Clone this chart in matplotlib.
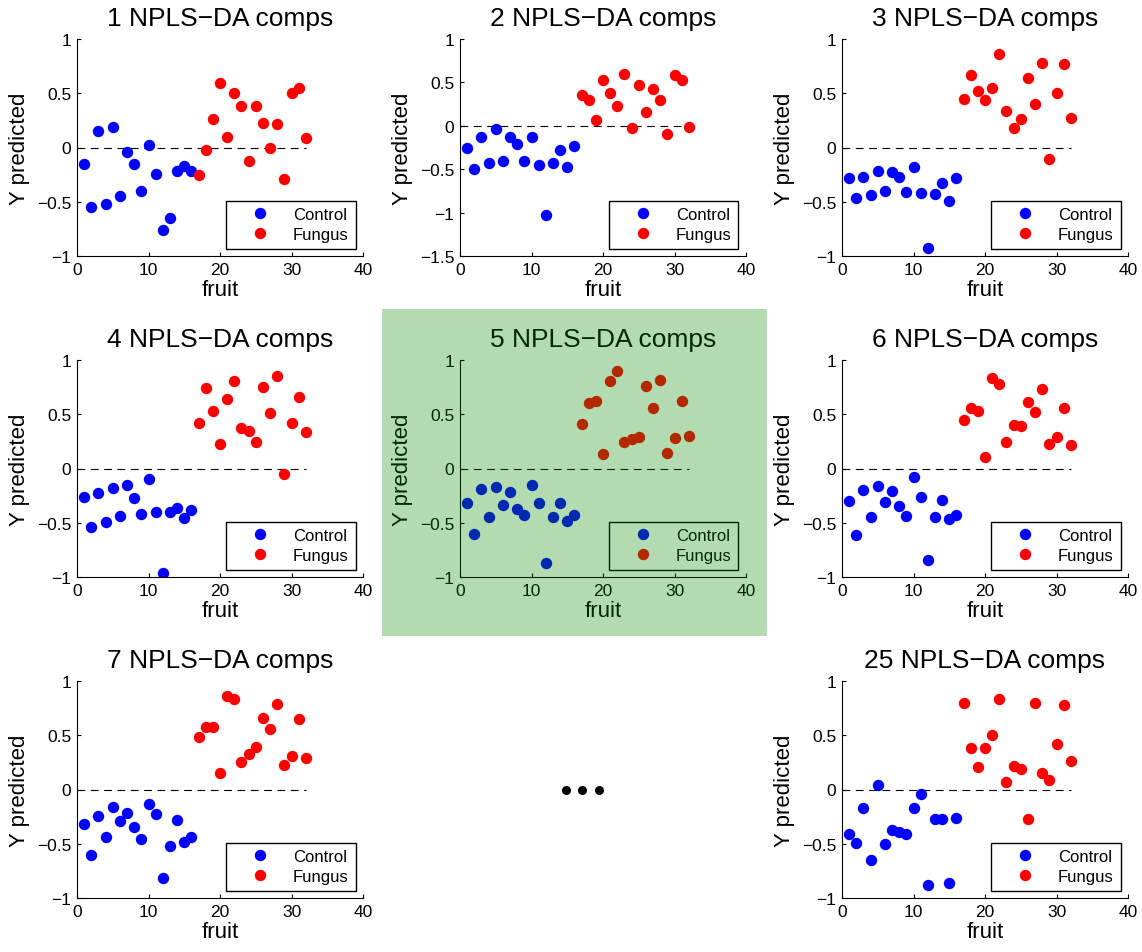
import matplotlib
matplotlib.use("Agg")
import matplotlib.pyplot as plt
from matplotlib.patches import Rectangle
from matplotlib.lines import Line2D
from matplotlib.ticker import FuncFormatter
import numpy as np

plt.rcParams['font.family'] = ['Liberation Sans', 'DejaVu Sans']

fruit_control = list(range(1, 17))
fruit_fungus = list(range(17, 33))

titles = ["1 NPLS\u2212DA comps", "2 NPLS\u2212DA comps", "3 NPLS\u2212DA comps",
          "4 NPLS\u2212DA comps", "5 NPLS\u2212DA comps", "6 NPLS\u2212DA comps",
          "7 NPLS\u2212DA comps", "25 NPLS\u2212DA comps"]

control_1 = [-0.15, -0.55, 0.15, -0.52, 0.19, -0.45, -0.04, -0.15, -0.40, 0.02, -0.24, -0.76, -0.65, -0.22, -0.17, -0.22]
fungus_1 = [-0.25, -0.02, 0.26, 0.59, 0.10, 0.50, 0.38, -0.12, 0.38, 0.23, 0.00, 0.22, -0.29, 0.50, 0.55, 0.09]

control_2 = [-0.26, -0.50, -0.13, -0.43, -0.04, -0.40, -0.13, -0.21, -0.41, -0.13, -0.45, -1.03, -0.43, -0.28, -0.47, -0.23]
fungus_2 = [0.35, 0.30, 0.07, 0.53, 0.38, 0.23, 0.60, -0.03, 0.47, 0.16, 0.42, 0.30, -0.09, 0.58, 0.53, -0.01]

control_3 = [-0.28, -0.47, -0.27, -0.44, -0.22, -0.40, -0.23, -0.27, -0.41, -0.18, -0.42, -0.93, -0.43, -0.33, -0.49, -0.28]
fungus_3 = [0.45, 0.67, 0.52, 0.44, 0.55, 0.86, 0.34, 0.18, 0.26, 0.64, 0.40, 0.78, -0.11, 0.50, 0.77, 0.27]

control_4 = [-0.26, -0.54, -0.23, -0.49, -0.18, -0.44, -0.15, -0.27, -0.42, -0.10, -0.40, -0.96, -0.40, -0.36, -0.46, -0.38]
fungus_4 = [0.42, 0.74, 0.53, 0.23, 0.64, 0.81, 0.37, 0.35, 0.24, 0.75, 0.51, 0.85, -0.05, 0.42, 0.66, 0.34]

control_5 = [-0.32, -0.60, -0.19, -0.45, -0.17, -0.34, -0.22, -0.37, -0.43, -0.15, -0.32, -0.87, -0.45, -0.32, -0.48, -0.43]
fungus_5 = [0.41, 0.60, 0.62, 0.13, 0.81, 0.90, 0.24, 0.27, 0.29, 0.76, 0.56, 0.82, 0.14, 0.28, 0.62, 0.30]

control_6 = [-0.30, -0.61, -0.20, -0.45, -0.16, -0.31, -0.21, -0.35, -0.44, -0.08, -0.26, -0.84, -0.45, -0.29, -0.47, -0.43]
fungus_6 = [0.45, 0.56, 0.53, 0.11, 0.83, 0.78, 0.24, 0.40, 0.39, 0.61, 0.52, 0.73, 0.23, 0.29, 0.56, 0.22]

control_7 = [-0.32, -0.60, -0.24, -0.44, -0.16, -0.29, -0.22, -0.35, -0.46, -0.13, -0.23, -0.82, -0.52, -0.28, -0.48, -0.44]
fungus_7 = [0.48, 0.58, 0.58, 0.15, 0.86, 0.83, 0.25, 0.33, 0.39, 0.66, 0.56, 0.79, 0.23, 0.31, 0.65, 0.29]

control_25 = [-0.41, -0.49, -0.17, -0.65, 0.04, -0.50, -0.37, -0.39, -0.41, -0.17, -0.04, -0.88, -0.27, -0.27, -0.86, -0.26]
fungus_25 = [0.80, 0.38, 0.21, 0.38, 0.50, 0.83, 0.07, 0.22, 0.19, -0.27, 0.80, 0.15, 0.09, 0.42, 0.78, 0.26]

controls = [control_1, control_2, control_3, control_4, control_5, control_6, control_7, control_25]
fungi = [fungus_1, fungus_2, fungus_3, fungus_4, fungus_5, fungus_6, fungus_7, fungus_25]
slots = [0, 1, 2, 3, 4, 5, 6, 8]

W, H = 1142, 953
fig = plt.figure(figsize=(W / 100, H / 100), dpi=100)

col_left = [77, 460, 842]
row_top = [40, 361, 682]
aw, ah = 286, 217

def fmt(v, pos):
    s = "%g" % v
    return s.replace("-", "\u2212")

for i, slot in enumerate(slots):
    r, c = divmod(slot, 3)
    left = col_left[c] / W
    bottom = 1 - (row_top[r] + ah) / H
    ax = fig.add_axes([left, bottom, aw / W, ah / H])
    ax.plot(fruit_control, controls[i], 'o', color=(0, 0, 1), ms=8.2, mec='none', label='Control')
    ax.plot(fruit_fungus, fungi[i], 'o', color=(1, 0, 0), ms=8.2, mec='none', label='Fungus')
    ax.plot([0, 32], [0, 0], '--', color='black', lw=0.8, dashes=(7, 5), zorder=1)
    ax.set_xlim(0, 40)
    if i == 1:
        ax.set_ylim(-1.5, 1)
        ax.set_yticks([-1.5, -1, -0.5, 0, 0.5, 1])
    else:
        ax.set_ylim(-1, 1)
        ax.set_yticks([-1, -0.5, 0, 0.5, 1])
    ax.set_xticks([0, 10, 20, 30, 40])
    ax.xaxis.set_major_formatter(FuncFormatter(fmt))
    ax.yaxis.set_major_formatter(FuncFormatter(fmt))
    for s in ['top', 'right']:
        ax.spines[s].set_visible(False)
    for s in ['left', 'bottom']:
        ax.spines[s].set_linewidth(0.8)
    ax.tick_params(direction='in', length=3, width=0.8, labelsize=12.5, pad=4)
    ax.set_title(titles[i], fontsize=19, pad=10)
    ax.set_xlabel('fruit', fontsize=16, labelpad=2)
    ax.set_ylabel('Y predicted', fontsize=16, labelpad=5)
    leg = ax.legend(loc='lower right', fontsize=12, frameon=True, fancybox=False,
                    edgecolor='black', framealpha=1, borderaxespad=0.45,
                    handlelength=3.35, handletextpad=0.3, borderpad=0.4,
                    labelspacing=0.28, numpoints=1)
    leg.get_frame().set_linewidth(1.0)

# green highlight over panel 5
rect = Rectangle((382 / W, 1 - 637 / H), (767 - 382) / W, (637 - 310) / H,
                 transform=fig.transFigure, facecolor=(0, 138 / 255, 0), alpha=0.3,
                 edgecolor='none', zorder=10)
fig.add_artist(rect)

# ellipsis in the empty slot
dots = Line2D([566 / W, 582 / W, 599 / W], [1 - 791 / H] * 3, transform=fig.transFigure,
              ls='none', marker='o', ms=6.5, color='black', mec='none')
fig.add_artist(dots)

fig.savefig('out.png', dpi=100)
